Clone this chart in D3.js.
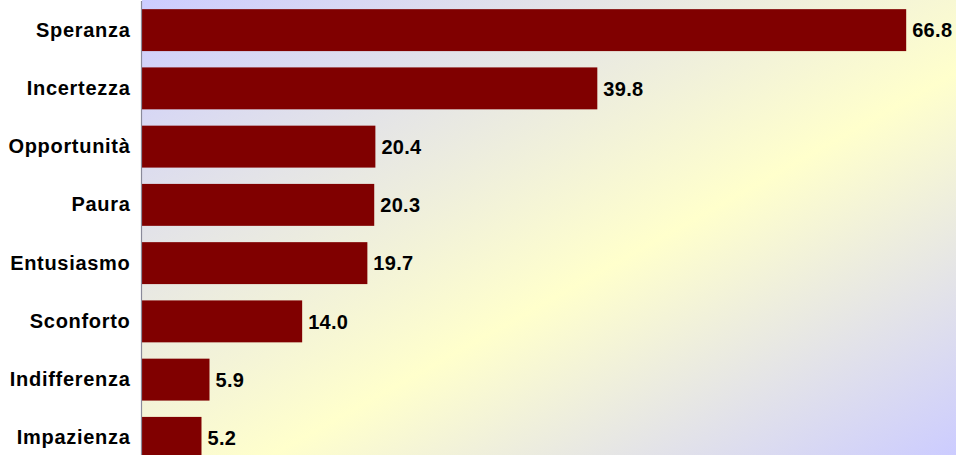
<!DOCTYPE html>
<html>
<head>
<meta charset="utf-8">
<script src="https://cdn.jsdelivr.net/npm/d3@7"></script>
<style>
  html, body { margin: 0; padding: 0; background: #ffffff; }
  svg { display: block; }
</style>
</head>
<body>
<div id="chart"></div>
<script>
const categories = ["Speranza", "Incertezza", "Opportunità", "Paura", "Entusiasmo", "Sconforto", "Indifferenza", "Impazienza"];
const values = [66.8, 39.8, 20.4, 20.3, 19.7, 14.0, 5.9, 5.2];
const valueLabels = ["66.8", "39.8", "20.4", "20.3", "19.7", "14.0", "5.9", "5.2"];

const W = 956, H = 455;
const plotLeft = 142, plotRight = 956, plotTop = 0, plotBottom = 467;

const svg = d3.select("#chart").append("svg")
  .attr("width", W).attr("height", H);

const defs = svg.append("defs");
const grad = defs.append("linearGradient")
  .attr("id", "bg").attr("gradientUnits", "userSpaceOnUse")
  .attr("x1", plotLeft).attr("y1", 0).attr("x2", plotRight).attr("y2", 0)
  .attr("gradientTransform", `translate(${plotLeft},0) scale(1,${H / (plotRight - plotLeft)}) rotate(45) translate(${-plotLeft},0)`);
// simpler: bounding-box gradient over the visible plot area
const grad2 = defs.append("linearGradient")
  .attr("id", "bg2").attr("x1", 0).attr("y1", 0).attr("x2", 1).attr("y2", 1);
grad2.append("stop").attr("offset", "0%").attr("stop-color", "#CCCCFF");
grad2.append("stop").attr("offset", "58%").attr("stop-color", "#FFFFCC");
grad2.append("stop").attr("offset", "100%").attr("stop-color", "#CCCCFF");

svg.append("rect")
  .attr("x", plotLeft).attr("y", plotTop)
  .attr("width", plotRight - plotLeft).attr("height", H - plotTop)
  .attr("fill", "url(#bg2)");

const x = d3.scaleLinear().domain([0, 70]).range([plotLeft, plotLeft + 70 * 11.44]);
const y = d3.scaleBand().domain(categories).range([1, 467])
  .paddingInner(0.28).paddingOuter(0.14);

const data = categories.map((c, i) => ({ c, v: values[i], l: valueLabels[i] }));

svg.append("g").selectAll("rect").data(data).join("rect")
  .attr("x", x(0))
  .attr("y", d => y(d.c))
  .attr("width", d => x(d.v) - x(0))
  .attr("height", y.bandwidth())
  .attr("fill", "#800000");

// axis
const yAxis = d3.axisLeft(y).tickSize(0).tickPadding(11);
const ag = svg.append("g").attr("transform", `translate(${plotLeft - 0.5},0)`).call(yAxis);
ag.select(".domain").attr("stroke", "#8a8a9a").attr("stroke-width", 1.2).attr("d", `M0,1V${plotBottom}`);
ag.selectAll("text")
  .attr("font-family", "'Liberation Sans', Arial, sans-serif")
  .attr("font-weight", "bold")
  .attr("font-size", 20)
  .attr("letter-spacing", 0.7)
  .attr("fill", "#000");

svg.append("g").selectAll("text").data(data).join("text")
  .attr("x", d => x(d.v) + 6)
  .attr("y", d => y(d.c) + y.bandwidth() / 2)
  .attr("dy", "0.36em")
  .attr("font-family", "'Liberation Sans', Arial, sans-serif")
  .attr("font-weight", "bold")
  .attr("font-size", 20)
  .attr("letter-spacing", 0.3)
  .attr("fill", "#000")
  .text(d => d.l);
</script>
</body>
</html>
